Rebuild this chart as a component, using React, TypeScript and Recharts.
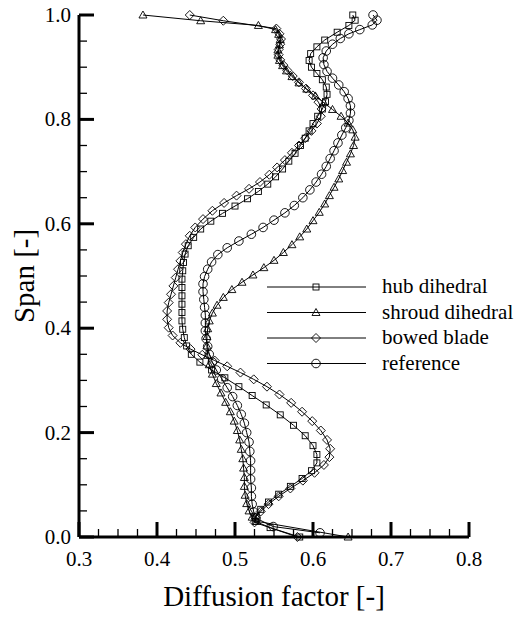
import { ScatterChart, Scatter, XAxis, YAxis, Legend } from "recharts";

// [diffusion factor, span]
const hubDihedral = [
  [0.651, 1.0], [0.654, 0.99], [0.646, 0.98], [0.631, 0.967], [0.615, 0.952], [0.605, 0.939],
  [0.597, 0.926], [0.595, 0.913], [0.598, 0.9], [0.605, 0.888], [0.612, 0.876], [0.617, 0.862],
  [0.618, 0.848], [0.616, 0.834], [0.612, 0.82], [0.606, 0.806], [0.6, 0.792], [0.595, 0.778],
  [0.59, 0.764], [0.584, 0.75], [0.577, 0.735], [0.569, 0.72], [0.561, 0.705], [0.552, 0.69],
  [0.542, 0.676], [0.53, 0.662], [0.516, 0.648], [0.5, 0.634], [0.484, 0.62], [0.469, 0.605],
  [0.456, 0.59], [0.447, 0.574], [0.44, 0.558], [0.436, 0.542], [0.434, 0.526], [0.433, 0.51],
  [0.432, 0.494], [0.432, 0.478], [0.432, 0.462], [0.432, 0.446], [0.432, 0.43], [0.432, 0.414],
  [0.433, 0.398], [0.435, 0.382], [0.438, 0.366], [0.444, 0.35], [0.455, 0.335], [0.47, 0.32],
  [0.487, 0.305], [0.505, 0.288], [0.522, 0.271], [0.54, 0.253], [0.558, 0.234], [0.575, 0.214],
  [0.59, 0.194], [0.6, 0.175], [0.605, 0.158], [0.605, 0.142], [0.598, 0.127], [0.586, 0.112],
  [0.571, 0.097], [0.556, 0.082], [0.543, 0.067], [0.533, 0.053], [0.527, 0.04], [0.526, 0.03],
  [0.545, 0.018], [0.583, 0.0],
];

const shroudDihedral = [
  [0.382, 1.0], [0.456, 0.989], [0.53, 0.98], [0.552, 0.972], [0.556, 0.963], [0.558, 0.953],
  [0.557, 0.943], [0.555, 0.933], [0.555, 0.923], [0.557, 0.913], [0.561, 0.903], [0.566, 0.893],
  [0.573, 0.882], [0.582, 0.87], [0.592, 0.858], [0.603, 0.845], [0.614, 0.832], [0.625, 0.819],
  [0.636, 0.806], [0.645, 0.793], [0.651, 0.78], [0.654, 0.766], [0.652, 0.75], [0.648, 0.734],
  [0.643, 0.718], [0.638, 0.702], [0.633, 0.686], [0.627, 0.67], [0.621, 0.654], [0.615, 0.638],
  [0.608, 0.622], [0.6, 0.606], [0.592, 0.59], [0.583, 0.575], [0.573, 0.56], [0.562, 0.545],
  [0.55, 0.53], [0.537, 0.516], [0.523, 0.502], [0.509, 0.488], [0.496, 0.474], [0.485, 0.459],
  [0.477, 0.444], [0.471, 0.429], [0.467, 0.414], [0.465, 0.399], [0.464, 0.384], [0.464, 0.366],
  [0.465, 0.348], [0.467, 0.33], [0.471, 0.312], [0.476, 0.294], [0.482, 0.276], [0.488, 0.258],
  [0.494, 0.24], [0.499, 0.222], [0.503, 0.204], [0.506, 0.186], [0.508, 0.168], [0.51, 0.15],
  [0.511, 0.132], [0.512, 0.114], [0.512, 0.097], [0.513, 0.08], [0.515, 0.064], [0.518, 0.05],
  [0.522, 0.038], [0.528, 0.03], [0.645, 0.0],
];

const bowedBlade = [
  [0.442, 1.0], [0.485, 0.989], [0.553, 0.974], [0.557, 0.964], [0.559, 0.954], [0.558, 0.944],
  [0.556, 0.934], [0.556, 0.924], [0.558, 0.914], [0.562, 0.904], [0.567, 0.894], [0.574, 0.883],
  [0.582, 0.871], [0.591, 0.859], [0.6, 0.846], [0.607, 0.833], [0.611, 0.82], [0.61, 0.806],
  [0.605, 0.792], [0.598, 0.778], [0.59, 0.764], [0.582, 0.75], [0.573, 0.736], [0.564, 0.722],
  [0.554, 0.708], [0.544, 0.694], [0.532, 0.68], [0.518, 0.667], [0.502, 0.654], [0.486, 0.64],
  [0.471, 0.625], [0.459, 0.609], [0.449, 0.593], [0.442, 0.577], [0.437, 0.561], [0.433, 0.545],
  [0.43, 0.529], [0.427, 0.513], [0.424, 0.497], [0.421, 0.481], [0.418, 0.465], [0.415, 0.449],
  [0.413, 0.433], [0.413, 0.417], [0.415, 0.401], [0.42, 0.386], [0.43, 0.372], [0.443, 0.36],
  [0.458, 0.349], [0.474, 0.338], [0.49, 0.327], [0.507, 0.315], [0.524, 0.302], [0.541, 0.288],
  [0.557, 0.273], [0.572, 0.257], [0.586, 0.24], [0.599, 0.222], [0.61, 0.204], [0.618, 0.186],
  [0.622, 0.169], [0.621, 0.153], [0.614, 0.138], [0.602, 0.123], [0.587, 0.108], [0.571, 0.093],
  [0.556, 0.078], [0.543, 0.063], [0.533, 0.049], [0.526, 0.037], [0.525, 0.028], [0.58, 0.0],
];

const reference = [
  [0.677, 1.0], [0.682, 0.99], [0.676, 0.981], [0.66, 0.972], [0.646, 0.964], [0.635, 0.955],
  [0.625, 0.944], [0.617, 0.931], [0.613, 0.918], [0.614, 0.905], [0.618, 0.892], [0.625, 0.879],
  [0.633, 0.866], [0.64, 0.853], [0.645, 0.84], [0.648, 0.826], [0.648, 0.812], [0.646, 0.798],
  [0.642, 0.784], [0.637, 0.77], [0.632, 0.755], [0.627, 0.74], [0.622, 0.725], [0.617, 0.71],
  [0.611, 0.695], [0.604, 0.68], [0.596, 0.665], [0.587, 0.65], [0.576, 0.635], [0.564, 0.621],
  [0.55, 0.607], [0.536, 0.593], [0.521, 0.58], [0.505, 0.567], [0.49, 0.554], [0.478, 0.541],
  [0.47, 0.527], [0.465, 0.513], [0.461, 0.499], [0.459, 0.485], [0.459, 0.47], [0.46, 0.455],
  [0.461, 0.44], [0.462, 0.425], [0.462, 0.41], [0.462, 0.395], [0.463, 0.38], [0.465, 0.365],
  [0.467, 0.35], [0.471, 0.335], [0.476, 0.32], [0.483, 0.303], [0.49, 0.286], [0.497, 0.269],
  [0.503, 0.252], [0.508, 0.235], [0.512, 0.218], [0.515, 0.2], [0.518, 0.182], [0.519, 0.164],
  [0.52, 0.146], [0.52, 0.128], [0.52, 0.111], [0.521, 0.094], [0.521, 0.078], [0.522, 0.063],
  [0.524, 0.048], [0.527, 0.036], [0.549, 0.02], [0.609, 0.008],
];

const xTicks = [
  0.3, 0.325, 0.35, 0.375, 0.4, 0.425, 0.45, 0.475, 0.5, 0.525, 0.55, 0.575, 0.6, 0.625, 0.65,
  0.675, 0.7, 0.725, 0.75, 0.775, 0.8,
];
const yTicks = [
  0, 0.05, 0.1, 0.15, 0.2, 0.25, 0.3, 0.35, 0.4, 0.45, 0.5, 0.55, 0.6, 0.65, 0.7, 0.75, 0.8,
  0.85, 0.9, 0.95, 1.0,
];

const series = [
  { name: "hub dihedral", data: hubDihedral, marker: "square" },
  { name: "shroud dihedral", data: shroudDihedral, marker: "triangle" },
  { name: "bowed blade", data: bowedBlade, marker: "diamond" },
  { name: "reference", data: reference, marker: "circle" },
];

const FONT = "'Liberation Serif', 'Times New Roman', serif";
const TICK_MARGIN = 8;

function Marker({ kind, cx, cy }: { kind: string; cx: number; cy: number }) {
  const common = { fill: "none", stroke: "#000", strokeWidth: 0.9 };
  if (kind === "square") return <rect x={cx - 3} y={cy - 3} width={6} height={6} {...common} />;
  if (kind === "triangle")
    return <path d={`M${cx},${cy - 4} L${cx + 4},${cy + 3} L${cx - 4},${cy + 3} Z`} {...common} />;
  if (kind === "diamond")
    return (
      <path
        d={`M${cx},${cy - 4.5} L${cx + 4.5},${cy} L${cx},${cy + 4.5} L${cx - 4.5},${cy} Z`}
        {...common}
      />
    );
  return <circle cx={cx} cy={cy} r={4.3} {...common} />;
}

const isMajor = (v: number, step: number) => Math.abs(v / step - Math.round(v / step)) < 1e-6;

function YTick(props: any) {
  const { x, y, payload } = props;
  const v = payload.value;
  const ax = x + TICK_MARGIN;
  const major = isMajor(v, 0.2);
  return (
    <g>
      <line x1={ax} x2={ax + (major ? 15 : 8)} y1={y} y2={y} stroke="#000" strokeWidth={major ? 3 : 1.3} />
      {major && (
        <text x={x} y={y + 7} textAnchor="end" fontSize={21} fontFamily={FONT} fill="#000">
          {v.toFixed(1)}
        </text>
      )}
    </g>
  );
}

function XTick(props: any) {
  const { x, y, payload } = props;
  const v = payload.value;
  const ay = y - TICK_MARGIN;
  const major = isMajor(v, 0.1);
  return (
    <g>
      <line x1={x} x2={x} y1={ay} y2={ay - (major ? 15 : 8)} stroke="#000" strokeWidth={major ? 3 : 1.3} />
      {major && (
        <text x={x} y={ay + 29} textAnchor="middle" fontSize={21} fontFamily={FONT} fill="#000">
          {v.toFixed(1)}
        </text>
      )}
    </g>
  );
}

function renderLegend() {
  return (
    <svg width={259} height={110} style={{ display: "block" }}>
      {series.map((s, i) => {
        const cy = 15 + i * 25.5;
        return (
          <g key={s.name}>
            <line x1={7} x2={106} y1={cy} y2={cy} stroke="#000" strokeWidth={1} />
            <Marker kind={s.marker} cx={56} cy={cy} />
            <text x={122} y={cy + 6} fontSize={21} fontFamily={FONT} fill="#000">
              {s.name}
            </text>
          </g>
        );
      })}
    </svg>
  );
}

export default function App() {
  return (
    <div style={{ position: "absolute", left: 0, top: 0, background: "#fff" }}>
      <ScatterChart width={519} height={617} margin={{ top: 15, right: 50, bottom: 20, left: 19 }}>
        <XAxis
          type="number"
          dataKey="x"
          domain={[0.3, 0.8]}
          ticks={xTicks}
          interval={0}
          height={60}
          tickSize={0}
          tickMargin={TICK_MARGIN}
          tickLine={false}
          axisLine={{ stroke: "#000", strokeWidth: 3 }}
          tick={(p: any) => <XTick {...p} />}
          label={{
            content: (p: any) => {
              const vb = p.viewBox;
              return (
                <text
                  x={vb.x + vb.width / 2}
                  y={vb.y + 69}
                  textAnchor="middle"
                  fontSize={29}
                  fontFamily={FONT}
                  fill="#000"
                >
                  Diffusion factor [-]
                </text>
              );
            },
          }}
        />
        <YAxis
          type="number"
          dataKey="y"
          domain={[0, 1]}
          ticks={yTicks}
          interval={0}
          width={60}
          tickSize={0}
          tickMargin={TICK_MARGIN}
          tickLine={false}
          axisLine={{ stroke: "#000", strokeWidth: 3 }}
          tick={(p: any) => <YTick {...p} />}
          label={{
            content: (p: any) => {
              const vb = p.viewBox;
              const cx = 34;
              const cy = vb.y + vb.height / 2;
              return (
                <text
                  x={cx}
                  y={cy}
                  transform={`rotate(-90 ${cx} ${cy})`}
                  textAnchor="middle"
                  fontSize={29}
                  fontFamily={FONT}
                  fill="#000"
                >
                  Span [-]
                </text>
              );
            },
          }}
        />
        <Legend
          layout="horizontal"
          verticalAlign="middle"
          align="center"
          wrapperStyle={{ left: 260, top: 272, width: 259, height: 110 }}
          content={renderLegend}
        />
        {series.map((s) => (
          <Scatter
            key={s.name}
            name={s.name}
            data={s.data.map(([x, y]) => ({ x, y }))}
            line={{ stroke: "#000", strokeWidth: 1 }}
            shape={(p: any) => <Marker kind={s.marker} cx={p.cx} cy={p.cy} />}
            isAnimationActive={false}
          />
        ))}
      </ScatterChart>
    </div>
  );
}
